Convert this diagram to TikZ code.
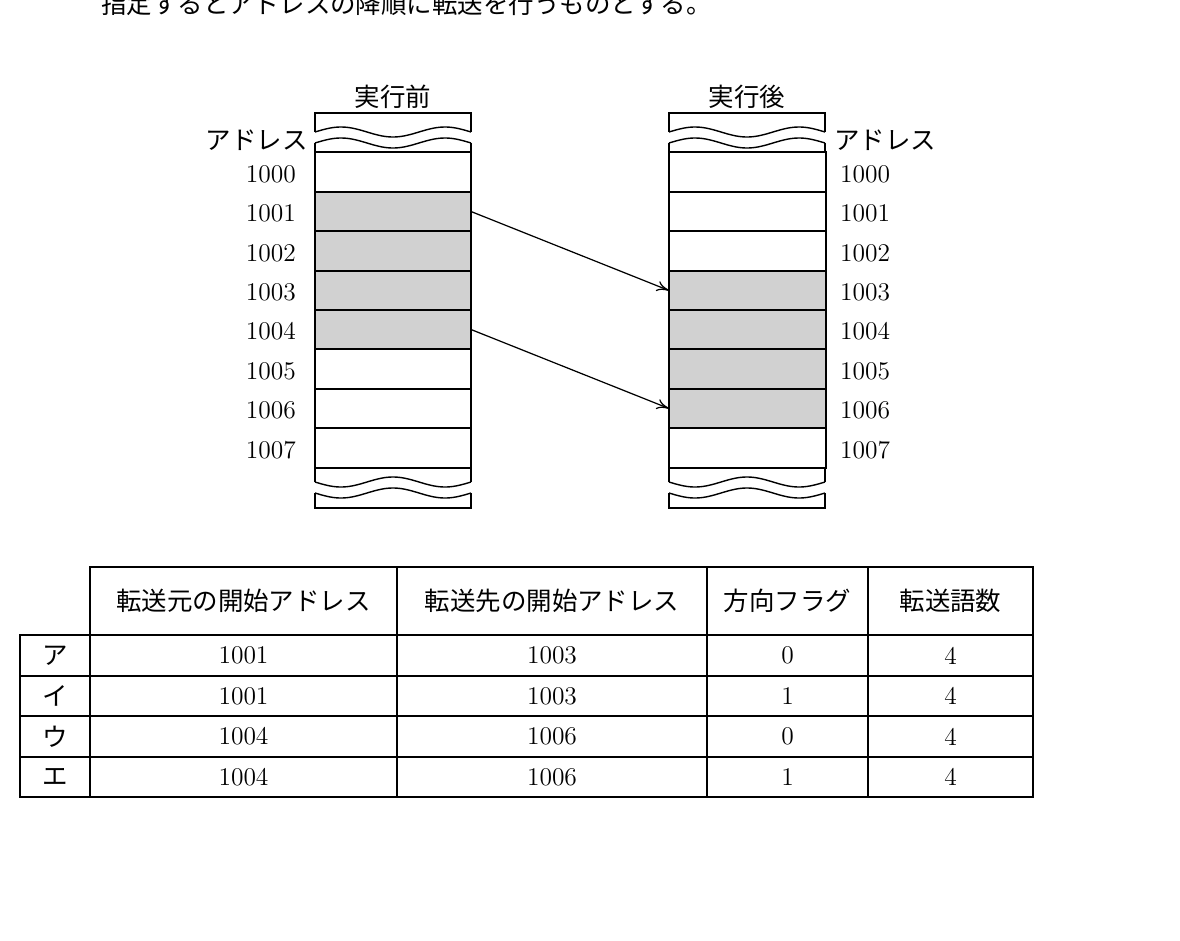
\documentclass[tikz,border=0pt]{standalone}
\usepackage{fontspec}
\usetikzlibrary{arrows.meta}
\newfontfamily\cjk{Noto Sans CJK JP}
\begin{document}
\begin{tikzpicture}[x=0.02cm,y=-0.02cm,
  lab/.style={font=\fontsize{14.5}{16}\selectfont},
  jp/.style={font=\cjk\fontsize{14.5}{16}\selectfont},
  arr/.style={-{To[length=7pt,width=6pt]},line width=0.7pt},
  ln/.style={line width=0.8pt}]
\useasboundingbox (0,0) rectangle (1180,940);
\node[jp,anchor=south west] (top) at (95,22) {指定するとアドレスの降順に転送を行うものとする。};
% columns
\foreach \xl/\nm in {315/L,669/R}{
  \pgfmathsetmacro{\xr}{\xl+156}
  \draw[ln] (\xl,132) -- (\xl,113) -- (\xr,113) -- (\xr,132);
  \draw[ln,domain=0:156,samples=60] plot ({\xl+\x},{132-5*sin(\x/156*540)});
  \draw[ln,domain=0:156,samples=60] plot ({\xl+\x},{143-5*sin(\x/156*540)});
  \draw[ln] (\xl,143) -- (\xl,152) -- (\xr,152) -- (\xr,143);
  \draw[ln] (\xl,482) -- (\xl,468) -- (\xr,468) -- (\xr,482);
  \draw[ln,domain=0:156,samples=60] plot ({\xl+\x},{482+5*sin(\x/156*540)});
  \draw[ln,domain=0:156,samples=60] plot ({\xl+\x},{493+5*sin(\x/156*540)});
  \draw[ln] (\xl,493) -- (\xl,508) -- (\xr,508) -- (\xr,493);
}
% rows
\foreach \i/\a/\b/\fl/\fr in {0/152/192/white/white,1/192/231/black!18/white,2/231/271/black!18/white,3/271/310/black!18/black!18,4/310/349/black!18/black!18,5/349/389/white/black!18,6/389/428/white/black!18,7/428/468/white/white}{
  \draw[ln,fill=\fl] (315,\a) rectangle (471,\b);
  \coordinate (L\i e) at (471,{(\a+\b)/2});
  \draw[ln,fill=\fr] (669,\a) rectangle (826,\b);
  \coordinate (R\i w) at (669,{(\a+\b)/2});
  \node[lab,anchor=east] (la\i) at (302,{(\a+\b)/2+2}) {100\i};
  \node[lab,anchor=west] (ra\i) at (834,{(\a+\b)/2+2}) {100\i};
}
\node[jp,anchor=east] (adl) at (314,140) {アドレス};
\node[jp,anchor=west] (adr) at (828,140) {アドレス};
\node[jp] (bef) at (393,97) {実行前};
\node[jp] (aft) at (747,97) {実行後};
\draw[arr] (L1e) -- (R3w);
\draw[arr] (L4e) -- (R6w);
% table
\draw[ln] (90,567) -- (1033,567) -- (1033,797) -- (20,797) -- (20,635) -- (90,635) -- cycle;
\draw[ln] (20,635) -- (1033,635);
\foreach \y in {676,716,757} \draw[ln] (20,\y) -- (1033,\y);
\foreach \x in {90,397,707,868} \draw[ln] (\x,567) -- (\x,797);
\node[jp] (h1) at (243.5,601) {転送元の開始アドレス};
\node[jp] (h2) at (552,601) {転送先の開始アドレス};
\node[jp] (h3) at (787.5,601) {方向フラグ};
\node[jp] (h4) at (950.5,601) {転送語数};
\foreach \y/\k/\s/\d/\f in {655.5/ア/1001/1003/0,696/イ/1001/1003/1,736.5/ウ/1004/1006/0,777/エ/1004/1006/1}{
  \node[jp] at (55,\y) {\k};
  \node[lab] at (243.5,\y) {\s};
  \node[lab] at (552,\y) {\d};
  \node[lab] at (787.5,\y) {\f};
  \node[lab] at (950.5,\y) {4};
}
\end{tikzpicture}
\end{document}
